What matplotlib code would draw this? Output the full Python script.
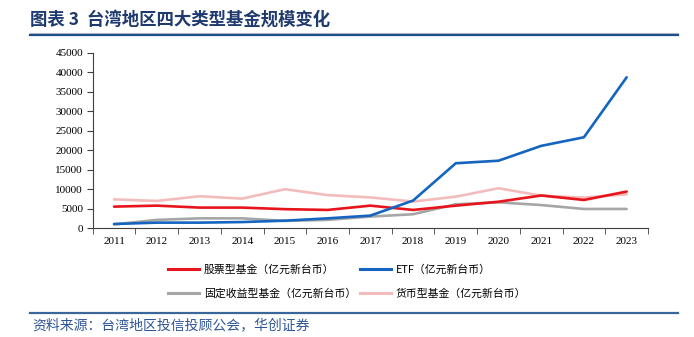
import matplotlib
matplotlib.use("Agg")
import matplotlib.pyplot as plt
from matplotlib.lines import Line2D

plt.rcParams['font.family'] = ['Noto Sans CJK SC', 'DejaVu Sans']

# Fund sizes by year (亿元新台币)
years = [str(y) for y in range(2011, 2024)]
stock = [5550, 5800, 5300, 5300, 4900, 4700, 5800, 4700, 5800, 6800, 8400, 7250, 9400]
etf = [1100, 1450, 1450, 1600, 1950, 2550, 3250, 7100, 16650, 17300, 21100, 23300, 38650]
fixed = [1000, 2150, 2550, 2550, 1900, 2150, 3000, 3600, 6150, 6650, 5950, 4950, 4950]
money = [7400, 7000, 8200, 7600, 10000, 8500, 7900, 6850, 8100, 10250, 8350, 7850, 8700]

series_names = ['股票型基金（亿元新台币）', 'ETF（亿元新台币）',
                '固定收益型基金（亿元新台币）', '货币型基金（亿元新台币）']
colors = ['#e8141c', '#1565c0', '#a6a6a6', '#f2bcbc']

W, H = 694, 337
fig = plt.figure(figsize=(W / 100, H / 100), dpi=100)

# title and rules
fig.text(30 / W, 1 - 20 / H, '图表 3  台湾地区四大类型基金规模变化', fontsize=12.5,
         fontweight='bold', color='#1f3a6e', va='center', ha='left')
fig.add_artist(Line2D([30 / W, 678 / W], [1 - 33 / H] * 2, color='#c0c0c0', lw=0.8))
fig.add_artist(Line2D([30 / W, 678 / W], [1 - 34.5 / H] * 2, color='#1f4e8c', lw=1.6))
fig.add_artist(Line2D([30 / W, 678 / W], [1 - 313 / H] * 2, color='#3a6699', lw=1.6))
fig.text(32 / W, 1 - 325 / H, '资料来源：台湾地区投信投顾公会，华创证券', fontsize=10,
         style='italic', color='#2f5597', va='center', ha='left')

ax = fig.add_axes([92.7 / W, 1 - 228.3 / H, (648 - 92.7) / W, (228.3 - 52.5) / H])
x = list(range(len(years)))
for vals, c in zip([money, fixed, stock, etf], [colors[3], colors[2], colors[0], colors[1]]):
    ax.plot(x, vals, color=c, lw=1.9, solid_capstyle='round')

ax.set_xlim(-0.5, len(years) - 0.5)
ax.set_ylim(0, 45000)
ax.set_yticks(range(0, 45001, 5000))
ax.set_yticklabels([str(v) for v in range(0, 45001, 5000)], family='Liberation Serif', fontsize=8)
ax.set_xticks(x)
ax.set_xticklabels(years, family='Liberation Serif', fontsize=8)
ax.set_xticks([i - 0.5 for i in range(len(years) + 1)], minor=True)
ax.tick_params(axis='x', which='major', length=0, pad=6)
ax.tick_params(axis='x', which='minor', length=4, color='#404040', direction='out')
ax.tick_params(axis='y', length=4, color='#404040', direction='out', pad=3)
for s in ['top', 'right']:
    ax.spines[s].set_visible(False)
for s in ['left', 'bottom']:
    ax.spines[s].set_color('#404040')
    ax.spines[s].set_linewidth(0.8)

handles = [Line2D([], [], color=c, lw=2.2) for c in colors]
order = [0, 2, 1, 3]
fig.legend([handles[i] for i in order], [series_names[i] for i in order],
           loc='upper left', bbox_to_anchor=(158 / W, 1 - 255 / H), ncol=2, frameon=False,
           fontsize=7.8, handlelength=2.9, handletextpad=0.45, columnspacing=0.3,
           labelspacing=1.25)

fig.savefig('out.png', dpi=100)
